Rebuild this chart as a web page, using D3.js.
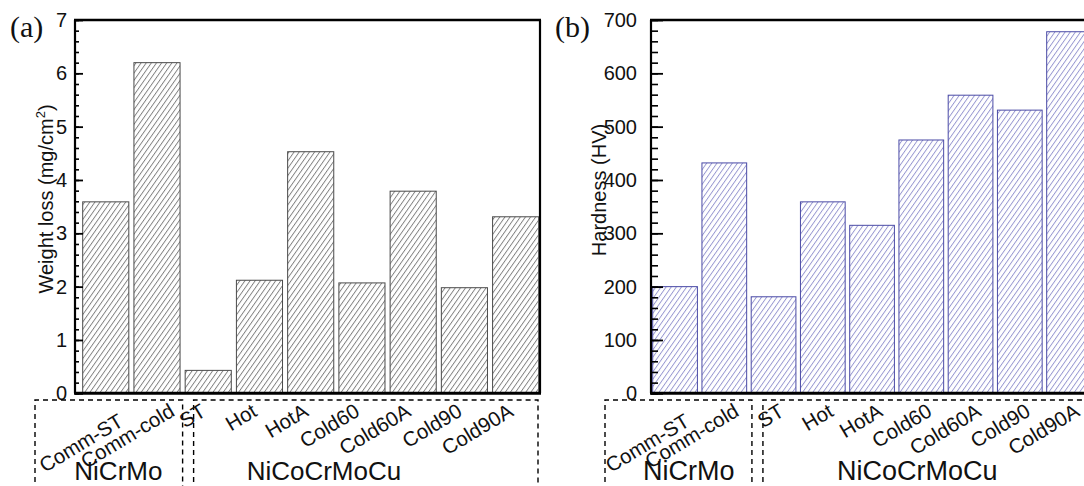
<!DOCTYPE html>
<html><head><meta charset="utf-8">
<script src="https://cdn.jsdelivr.net/npm/d3@7"></script>
<style>html,body{margin:0;padding:0;overflow:hidden;background:#fff}</style>
</head><body><svg id="chart" width="1084" height="486"></svg>
<script>
// ---------- data ----------
const categories = ["Comm-ST","Comm-cold","ST","Hot","HotA","Cold60","Cold60A","Cold90","Cold90A"];
const weightLoss = [3.59, 6.2, 0.43, 2.12, 4.53, 2.07, 3.79, 1.98, 3.31];
const hardness   = [200, 432, 181, 359, 315, 475, 559, 531, 678];
const groupNames = ["NiCrMo", "NiCoCrMoCu"];
const groupSizes = [2, 7];
const weightTicks   = [0,1,2,3,4,5,6,7];
const hardnessTicks = [0,100,200,300,400,500,600,700];

const svg = d3.select("#chart");
const defs = svg.append("defs");

function hatch(id, color) {
  const p = defs.append("pattern").attr("id", id)
    .attr("patternUnits", "userSpaceOnUse").attr("width", 4.2).attr("height", 10)
    .attr("patternTransform", "rotate(35)");
  p.append("rect").attr("width", 4.2).attr("height", 10).attr("fill", "#fff");
  p.append("line").attr("x1", 0.5).attr("y1", 0).attr("x2", 0.5).attr("y2", 10)
    .attr("stroke", color).attr("stroke-width", 0.8);
}
hatch("hatchA", "#5f5f5f");
hatch("hatchB", "#7a7ac4");

const SANS = "'Liberation Sans', Arial, sans-serif";

function drawPanel(o) {
  const g = svg.append("g");
  const x = d3.scaleBand().domain(categories).range(o.barRange).paddingInner(o.padInner).paddingOuter(0);
  const y = d3.scaleLinear().domain([0, o.ticks[o.ticks.length - 1]]).range([o.bottom, o.top]);

  // bars
  g.selectAll("rect.bar").data(o.values).join("rect")
    .attr("class", "bar")
    .attr("x", (d, i) => x(categories[i]))
    .attr("width", x.bandwidth())
    .attr("y", d => y(d))
    .attr("height", d => y(0) - y(d))
    .attr("fill", `url(#${o.hatch})`)
    .attr("stroke", o.barStroke).attr("stroke-width", 1);

  // minor ticks
  const minor = d3.range(0, o.ticks[o.ticks.length - 1] + 1e-9, o.minorStep);
  g.append("g").attr("transform", `translate(${o.left},0)`)
    .call(d3.axisLeft(y).tickValues(minor).tickSize(-o.minorLen).tickFormat(""))
    .call(s => s.select(".domain").remove())
    .call(s => s.selectAll("line").attr("stroke", "#000").attr("stroke-width", 1.6));
  // major ticks
  g.append("g").attr("transform", `translate(${o.left},0)`)
    .call(d3.axisLeft(y).tickValues(o.ticks).tickSize(-o.majorLen).tickPadding(o.labelPad).tickFormat(d3.format("d")))
    .call(s => s.select(".domain").remove())
    .call(s => s.selectAll("line").attr("stroke", "#000").attr("stroke-width", 1.8))
    .call(s => s.selectAll("text").attr("font-family", SANS)
      .attr("font-size", o.tickFont).attr("fill", "#111"));

  // frame
  const fr = g.append("g").attr("stroke", "#000").attr("fill", "none");
  fr.append("line").attr("x1", o.left).attr("x2", o.left).attr("y1", o.top).attr("y2", o.bottom).attr("stroke-width", 2.2);
  fr.append("line").attr("x1", o.left - 1).attr("x2", o.right + 1).attr("y1", o.top).attr("y2", o.top).attr("stroke-width", 2.4);
  fr.append("line").attr("x1", o.right).attr("x2", o.right).attr("y1", o.top).attr("y2", o.bottom).attr("stroke-width", 2.2);
  fr.append("line").attr("x1", o.left - 1).attr("x2", o.right + 1).attr("y1", o.bottom).attr("y2", o.bottom).attr("stroke-width", 3);

  // y title
  const t = g.append("text")
    .attr("transform", `translate(${o.titleX},${o.titleY}) rotate(-90)`)
    .attr("text-anchor", "middle")
    .attr("font-family", SANS)
    .attr("font-size", o.titleFont).attr("fill", "#111");
  o.title.forEach(part => {
    const ts = t.append("tspan").text(part.t);
    if (part.sup) ts.attr("font-size", o.titleFont * 0.65).attr("dy", -o.titleFont * 0.42);
    if (part.after) ts.attr("dy", o.titleFont * 0.42);
  });

  // panel label
  g.append("text").attr("x", o.panelX).attr("y", 37)
    .attr("font-family", "'Liberation Serif', 'DejaVu Serif', serif")
    .attr("font-size", 30).attr("fill", "#111").text(o.panelLabel);

  // group boxes
  const boxTop = 400;
  const split = (x(categories[1]) + x.bandwidth() + x(categories[2])) / 2 + o.splitShift;
  const boxes = [[o.left - o.boxLeftOut, split], [split + 11, o.right - 2]];
  boxes.forEach(b => {
    g.append("path")
      .attr("d", `M${b[0]},${boxTop + 100} V${boxTop} H${b[1]} V${boxTop + 100}`)
      .attr("fill", "#fff").attr("stroke", "#000").attr("stroke-width", 1.4)
      .attr("stroke-dasharray", "5,4");
  });

  // category labels
  g.selectAll("text.cat").data(categories).join("text")
    .attr("class", "cat")
    .attr("text-anchor", "end")
    .attr("font-family", SANS)
    .attr("font-size", o.catFont).attr("fill", "#111")
    .attr("transform", (d, i) => {
      const shift = i < groupSizes[0] ? o.catShiftA : o.catShiftB;
      const yy = i === 0 ? 425 : 415;
      return `translate(${x(d) + x.bandwidth() / 2 + shift},${yy}) rotate(-31)`;
    })
    .text(d => d);

  // group labels
  let idx = 0;
  groupNames.forEach((name, k) => {
    const first = categories[idx], last = categories[idx + groupSizes[k] - 1];
    const cx = (x(first) + x(last) + x.bandwidth()) / 2 + o.groupShift[k];
    g.append("text").attr("x", cx).attr("y", 480).attr("text-anchor", "middle")
      .attr("font-family", SANS)
      .attr("font-size", o.groupFont).attr("fill", "#111").text(name);
    idx += groupSizes[k];
  });
}

drawPanel({
  values: weightLoss, ticks: weightTicks, minorStep: 0.2,
  left: 75, right: 540, top: 20, bottom: 393.3,
  barRange: [82.7, 538.7], padInner: 0.1,
  hatch: "hatchA", barStroke: "#4a4a4a",
  majorLen: 8, minorLen: 4, labelPad: 8, tickFont: 20,
  title: [{t: "Weight loss (mg/cm"}, {t: "2", sup: true}, {t: ")", after: true}],
  titleX: 53, titleY: 199, titleFont: 20,
  panelLabel: "(a)", panelX: 10,
  boxLeftOut: 40, splitShift: 0,
  catFont: 20.5, catShiftA: 19, catShiftB: -1,
  groupFont: 26, groupShift: [-13, -38]
});

drawPanel({
  values: hardness, ticks: hardnessTicks, minorStep: 20,
  left: 651, right: 1095, top: 20, bottom: 393.3,
  barRange: [652.7, 1091.4], padInner: 0.092,
  hatch: "hatchB", barStroke: "#4b4ba6",
  majorLen: 12, minorLen: 7, labelPad: 14, tickFont: 20,
  title: [{t: "Hardness (HV)"}],
  titleX: 606, titleY: 190, titleFont: 20,
  panelLabel: "(b)", panelX: 555,
  boxLeftOut: 46, splitShift: 3,
  catFont: 20.5, catShiftA: 16, catShiftB: 12,
  groupFont: 27, groupShift: [-11, -4]
});
</script>
</body></html>
